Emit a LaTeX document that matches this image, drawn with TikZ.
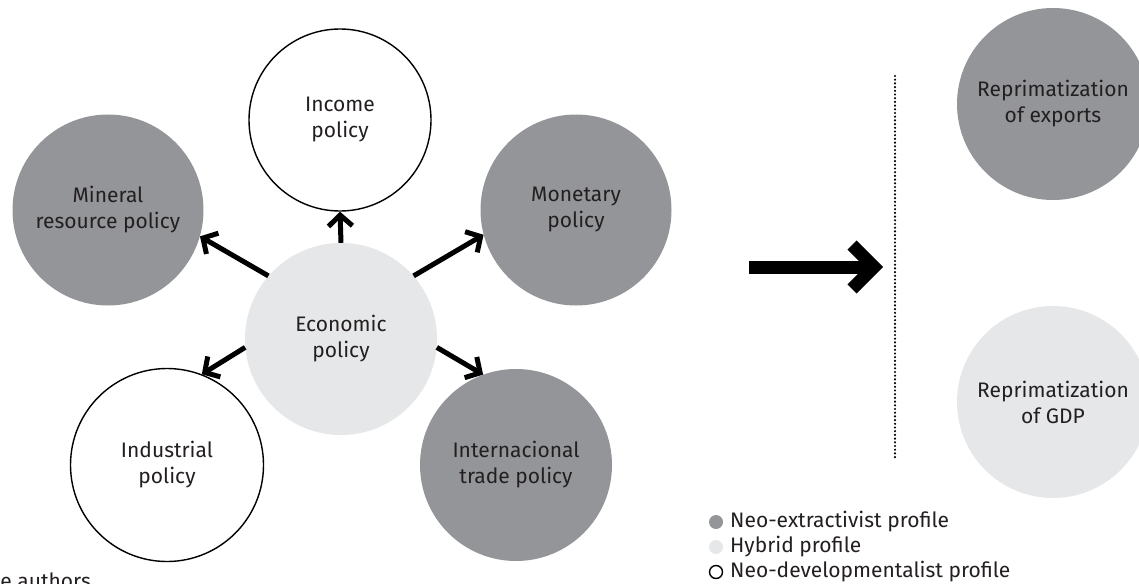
\documentclass[tikz,border=0pt]{standalone}
\usepackage{fontspec}
\setmainfont{Fira Sans}
\usetikzlibrary{arrows.meta,calc}
\definecolor{dkgray}{HTML}{939598}
\definecolor{ltgray}{HTML}{E6E7E8}
\definecolor{txt}{HTML}{231F20}
\begin{document}
\begin{tikzpicture}[x=1pt,y=-1pt,
  font=\fontsize{21}{26}\selectfont,
  circ/.style={circle, inner sep=0pt, minimum size=#1, align=center, text=txt},
  dark/.style={circ=#1, fill=dkgray},
  light/.style={circ=#1, fill=ltgray},
  open/.style={circ=#1, draw=black, line width=1.4pt, fill=white},
  arr/.style={line width=5pt, -{Straight Barb[length=11pt,width=24pt,sharp]}},
  bigline/.style={line width=13pt, line join=miter},
  dotline/.style={line width=2.4pt, line cap=round, dash pattern=on 0pt off 3.7pt},
  lab/.style={anchor=west, text=txt, inner sep=0pt}
]
\useasboundingbox (0,0) rectangle (1139,583);

% policy circles
\node[open=182pt]  (inc) at (340,120) {Income\\policy};
\node[dark=191pt]  (min) at (108,210) {Mineral\\resource policy};
\node[dark=191pt]  (mon) at (576,210) {Monetary\\policy};
\node[light=192pt] (eco) at (341,339) {Economic\\policy};
\node[open=193pt]  (ind) at (167,465) {Industrial\\policy};
\node[dark=192pt]  (trd) at (516,465) {Internacional\\trade policy};

% arrows from economic policy
\draw[arr] (eco.90)  -- (inc.270);
\draw[arr] (eco.139) -- (min.344);
\draw[arr] (eco.41)  -- (mon.195);
\draw[arr] (eco.185) -- (ind.69);
\draw[arr] (eco.355) -- (trd.110);

% big arrow
\coordinate (bigS) at (749,267);
\coordinate (bigE) at (883,267);
\draw[bigline] (bigS) -- ($(bigE)+(-9,0)$);
\draw[bigline] ($(bigE)+(-31,-22)$) -- ($(bigE)+(-9,0)$) -- ($(bigE)+(-31,22)$);

% dotted separator
\coordinate (dtop) at (895,76);
\coordinate (dbot) at (895,458);
\draw[dotline] (dtop) -- (dbot);

% outcome circles
\node[dark=192pt]  (rexp) at (1053,104) {Reprimatization\\of exports};
\node[light=192pt] (rgdp) at (1053,402) {Reprimatization\\of GDP};

% legend
\node[dark=14pt]  (m1) at (716,522) {};
\node[light=14pt] (m2) at (716,547) {};
\node[open=13pt]  (m3) at (716,572) {};
\node[lab] (t1) at (730,522) {Neo-extractivist profile};
\node[lab] (t2) at (730,547) {Hybrid profile};
\node[lab] (t3) at (730,572) {Neo-developmentalist profile};

% source (cut off at the lower edge, as in the reference)
\node[anchor=base east, text=txt, inner sep=0pt] (src) at (91,588) {the authors};
\end{tikzpicture}
\end{document}
